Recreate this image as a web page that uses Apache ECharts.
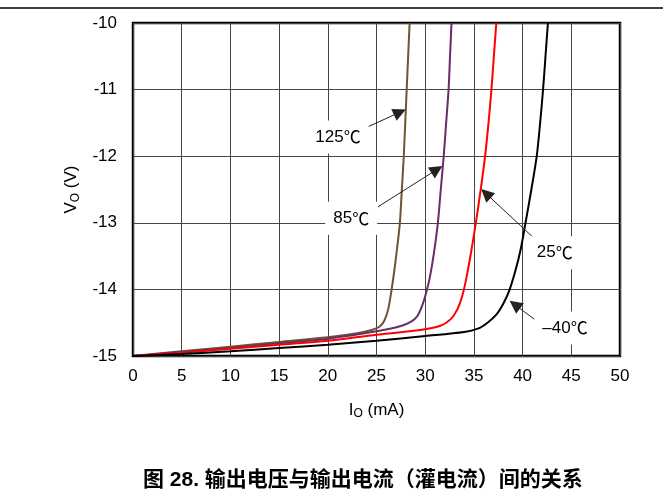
<!DOCTYPE html>
<html><head><meta charset="utf-8">
<script src="https://cdn.jsdelivr.net/npm/echarts@6/dist/echarts.min.js"></script>
<style>html,body{margin:0;padding:0;background:#fff}#c{width:663px;height:499px}</style>
</head><body><div id="c"></div>
<script>
// Data: [I_O (mA), V_O (V)]
var xTicks = [0,5,10,15,20,25,30,35,40,45,50];
var yTicks = [-15,-14,-13,-12,-11,-10];
var curve125 = [[0,-15],[5,-14.93],[10,-14.86],[15,-14.79],[20,-14.72],[23,-14.66],[24.5,-14.61],[25.3,-14.56],[25.8,-14.47],[26.2,-14.3],[26.5,-14.05],[26.8,-13.75],[27.1,-13.4],[27.4,-13.0],[27.6,-12.5],[27.8,-12.0],[27.95,-11.5],[28.1,-11.0],[28.25,-10.5],[28.4,-10]];
var curve85 = [[0,-15],[5,-14.94],[10,-14.88],[15,-14.81],[20,-14.74],[25,-14.63],[27.5,-14.55],[28.6,-14.48],[29.2,-14.4],[29.7,-14.24],[30.1,-14.05],[30.5,-13.8],[30.9,-13.45],[31.3,-13.0],[31.6,-12.5],[31.9,-12.0],[32.15,-11.5],[32.4,-11.0],[32.55,-10.5],[32.7,-10]];
var curve25 = [[0,-15],[5,-14.95],[10,-14.89],[15,-14.83],[20,-14.77],[25,-14.68],[29.5,-14.61],[31.5,-14.55],[32.6,-14.45],[33.3,-14.3],[33.8,-14.1],[34.2,-13.85],[34.7,-13.45],[35.2,-13.0],[35.7,-12.5],[36.15,-12.0],[36.5,-11.5],[36.8,-11.0],[37.05,-10.5],[37.3,-10]];
var curveM40 = [[0,-15],[5,-14.97],[10,-14.93],[15,-14.88],[20,-14.83],[25,-14.77],[30,-14.7],[34,-14.64],[35.4,-14.59],[36.4,-14.5],[37.3,-14.38],[38.0,-14.22],[38.6,-14.03],[39.2,-13.75],[39.8,-13.4],[40.3,-13.0],[40.9,-12.5],[41.45,-12.0],[41.8,-11.5],[42.1,-11.0],[42.35,-10.5],[42.6,-10]];
var seriesNames = ['125℃','85℃','25℃','–40℃'];
var labelNums = ['125','85','25','–40'];
var seriesColors = ['#6e5431','#6a2b6b','#ff0000','#000000'];
// annotation: label position, arrow start, arrow tip (data coords)
var labelPos = [[21.05,-11.71],[22.4,-12.93],[43.3,-13.45],[44.35,-14.58]];
var arrowFrom = [[24.1,-11.56],[25.15,-12.76],[41.6,-13.29],[41.6,-14.49]];
var arrowTo = [[27.4,-11.34],[31.2,-12.2],[36.24,-12.56],[39.2,-14.23]];
var titleText = '图 28. 输出电压与输出电流（灌电流）间的关系';

var font = '"Liberation Sans", Arial, sans-serif';
var chart = echarts.init(document.getElementById('c'), null, {renderer:'canvas'});
var curves = [curve125, curve85, curve25, curveM40];
var series = curves.map(function(d,i){
  return {type:'line', name:seriesNames[i], data:d, showSymbol:false, smooth:0.3,
    lineStyle:{color:seriesColors[i], width:2}, itemStyle:{color:seriesColors[i]}, z:3, silent:true};
});
series.push({
  type:'line', data:[], silent:true, z:5,
  markLine:{silent:true, symbol:['none','triangle'], symbolSize:13, animation:false,
    label:{show:false}, lineStyle:{color:'#222', width:1, type:'solid'},
    itemStyle:{color:'#000'},
    emphasis:{disabled:true},
    data: arrowFrom.map(function(f,i){return [{coord:f},{coord:arrowTo[i]}];})
  },
  markPoint:{silent:true, symbol:'rect', symbolSize:0, animation:false,
    label:{show:true, position:'inside', color:'#000',
      backgroundColor:'#fff', padding:[8,8,8,8],
      rich:{a:{fontFamily:font, fontSize:17, color:'#000'}, b:{fontFamily:'"Noto Sans CJK SC"', fontSize:17, color:'#000'}}},
    data: labelPos.map(function(p,i){return {coord:p, value:seriesNames[i], label:{formatter:'{a|'+labelNums[i]+'}{b|℃}'}};})
  }
});
chart.setOption({
  animation:false,
  backgroundColor:'#fff',
  title:{text:titleText, left:138, top:465, padding:5, textStyle:{fontFamily:'"Liberation Sans","Noto Sans CJK SC",sans-serif', fontWeight:'bold', fontSize:21, color:'#000'}},
  grid:{left:133, right:43, top:23, bottom:143, show:true, borderColor:'#000', borderWidth:2.5, backgroundColor:'transparent'},
  xAxis:{type:'value', min:0, max:50, interval:5,
    axisLine:{show:false}, axisTick:{show:false},
    axisLabel:{fontFamily:font, fontSize:17, color:'#000', margin:12},
    splitLine:{lineStyle:{color:'#444', width:1}},
    name:'{n|I}{s|O}{n| (mA)}', nameLocation:'middle', nameGap:44,
    nameTextStyle:{rich:{n:{fontFamily:font, fontSize:17, color:'#000'}, s:{fontFamily:font, fontSize:12, color:'#000', verticalAlign:'bottom', padding:[8,0,0,0]}}}
  },
  yAxis:{type:'value', min:-15, max:-10, interval:1,
    axisLine:{show:false}, axisTick:{show:false},
    axisLabel:{fontFamily:font, fontSize:17, color:'#000', margin:16},
    splitLine:{lineStyle:{color:'#444', width:1}},
    name:'{n|V}{s|O}{n| (V)}', nameLocation:'middle', nameGap:50, nameRotate:90,
    nameTextStyle:{rich:{n:{fontFamily:font, fontSize:17, color:'#000'}, s:{fontFamily:font, fontSize:12, color:'#000', verticalAlign:'bottom', padding:[8,0,0,0]}}}
  },
  graphic:[{type:'line', shape:{x1:0,y1:8,x2:663,y2:8}, style:{stroke:'#000', lineWidth:1.5}, silent:true}],
  series:series
});
</script></body></html>
